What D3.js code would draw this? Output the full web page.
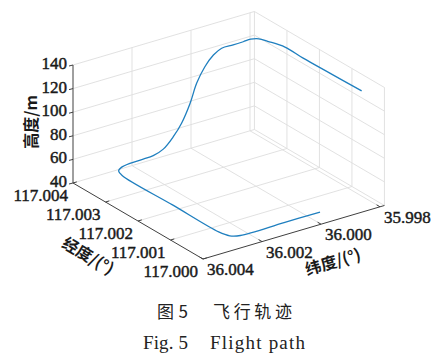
<!DOCTYPE html>
<html><head><meta charset="utf-8">
<script src="https://cdn.jsdelivr.net/npm/d3@7"></script>
<style>body{margin:0;background:#fff} svg{display:block}</style>
</head><body>
<script>
// ---- data ----
const lonTicks = [117.004, 117.003, 117.002, 117.001, 117.000];
const lonTickLabels = ["117.004", "117.003", "117.002", "117.001", "117.000"];
const latTicks = [36.004, 36.002, 36.000, 35.998];
const latTickLabels = ["36.004", "36.002", "36.000", "35.998"];
const altTicks = [40, 60, 80, 100, 120, 140];
const altTickLabels = ["40", "60", "80", "100", "120", "140"];
const lonDomain = [117.004, 117.000];
const latDomain = [36.004, 35.99785];
const altDomain = [40, 140];

const pathLon = [117.00023, 117.00023, 117.00023, 117.00033, 117.00058, 117.00200, 117.00355, 117.00373,
  117.00380, 117.00380, 117.00380, 117.00380, 117.00380, 117.00380, 117.00380, 117.00380, 117.00380,
  117.00380, 117.00380, 117.00380, 117.00380, 117.00380, 117.00380, 117.00371, 117.00350, 117.00297,
  117.00241, 117.00159, 117.00061];
const pathLat = [35.99978, 36.00100, 36.00248, 36.00273, 36.00283, 36.00283, 36.00283, 36.00275,
  36.00258, 36.00229, 36.00184, 36.00150, 36.00116, 36.00082, 36.00054, 36.00025, 36.00003,
  35.99975, 35.99946, 35.99918, 35.99879, 35.99845, 35.99820, 35.99802, 35.99795, 35.99795,
  35.99795, 35.99795, 35.99795];
const pathAlt = [45, 45, 45, 45, 45, 45, 45, 45.5,
  46, 47.3, 47.5, 48.0, 51.0, 59, 68.3, 83.1, 98.4,
  110.4, 118.2, 121.9, 121.8, 122, 122.3, 122.8, 123.5, 127.2,
  126.8, 127.3, 128];

// ---- projection through d3 scales ----
const W = 442, H = 355;
const origin = [73, 183];
const lonX = d3.scaleLinear().domain([117.004, 117.000]).range([0, 130]);
const lonY = d3.scaleLinear().domain([117.004, 117.000]).range([0, 76]);
const latX = d3.scaleLinear().domain([36.004, 35.998]).range([0, 177]);
const latY = d3.scaleLinear().domain([36.004, 35.998]).range([0, -52.2]);
const altY = d3.scaleLinear().domain([40, 140]).range([0, -118]);
const P = (lon, lat, alt) => [origin[0] + lonX(lon) + latX(lat), origin[1] + lonY(lon) + latY(lat) + altY(alt)];

const serif = "'Liberation Serif','Times New Roman',serif";
const cjk = "'Noto Sans CJK SC','Noto Sans',sans-serif";
const svg = d3.select("body").append("svg").attr("width", W).attr("height", H);

const lonMin = lonDomain[1], lonMax = lonDomain[0];
const latMax = latDomain[0], latMin = latDomain[1];
const zMin = altDomain[0], zMax = altDomain[1];

const seg = (g, a, b, color, w) => g.append("line")
  .attr("x1", a[0]).attr("y1", a[1]).attr("x2", b[0]).attr("y2", b[1])
  .attr("stroke", color).attr("stroke-width", w);

// grid
const grid = svg.append("g");
const gc = "#dedede", gw = 0.9;
// floor
lonTicks.filter(d => d !== lonMax && d !== lonMin).forEach(lon => seg(grid, P(lon, latMax, zMin), P(lon, latMin, zMin), gc, gw));
latTicks.filter(d => d !== latMax).forEach(lat => seg(grid, P(lonMax, lat, zMin), P(lonMin, lat, zMin), gc, gw));
seg(grid, P(lonMax, latMax, zMin), P(lonMax, latMin, zMin), gc, gw);
seg(grid, P(lonMax, latMin, zMin), P(lonMin, latMin, zMin), gc, gw);
// left wall (lon = max)
altTicks.filter(d => d !== zMin).forEach(z => seg(grid, P(lonMax, latMax, z), P(lonMax, latMin, z), gc, gw));
latTicks.filter(d => d !== latMax).concat([latMin]).forEach(lat => seg(grid, P(lonMax, lat, zMin), P(lonMax, lat, zMax), gc, gw));
// right wall (lat = min)
altTicks.filter(d => d !== zMin).forEach(z => seg(grid, P(lonMax, latMin, z), P(lonMin, latMin, z), gc, gw));
lonTicks.filter(d => d !== lonMax).forEach(lon => seg(grid, P(lon, latMin, zMin), P(lon, latMin, zMax), gc, gw));

// axes
const ax = svg.append("g");
const ac = "#404040";
seg(ax, P(lonMax, latMax, zMin), P(lonMax, latMax, zMax), ac, 1);
seg(ax, P(lonMax, latMax, zMin), P(lonMin, latMax, zMin), ac, 1);
seg(ax, P(lonMin, latMax, zMin), P(lonMin, latMin, zMin), ac, 1);

// ticks + labels
const tc = "#1a1a1a";
const fs = 17;
const lab = (g) => g.attr("font-family", serif).attr("font-size", fs).attr("fill", tc)
  .attr("stroke", tc).attr("stroke-width", 0.45);
altTicks.forEach((z, i) => {
  const p = P(lonMax, latMax, z);
  seg(ax, p, [p[0] - 4, p[1] + 1], ac, 1);
  lab(ax.append("text").attr("x", p[0] - 6).attr("y", p[1] - 2).attr("dy", "0.35em")
    .attr("text-anchor", "end")).text(altTickLabels[i]);
});
lonTicks.forEach((lon, i) => {
  const p = P(lon, latMax, zMin);
  seg(ax, p, [p[0] + 3.8, p[1] - 1.1], ac, 1);
  lab(ax.append("text").attr("x", p[0] - 5).attr("y", p[1] + 12).attr("dy", "0.35em")
    .attr("text-anchor", "end")).text(lonTickLabels[i]);
});
latTicks.forEach((lat, i) => {
  const p = P(lonMin, lat, zMin);
  seg(ax, p, [p[0] - 3.4, p[1] - 2], ac, 1);
  lab(ax.append("text").attr("x", p[0] + 4).attr("y", p[1] + 10).attr("dy", "0.35em")
    .attr("text-anchor", "start")).text(latTickLabels[i]);
});

// axis titles
svg.append("text").attr("transform", "translate(31,122) rotate(-90)")
  .attr("text-anchor", "middle").attr("dy", "0.35em").attr("font-size", 16).attr("font-weight", "bold")
  .attr("font-family", cjk).attr("fill", tc).text("高度/m");
svg.append("text").attr("transform", "translate(88,256) rotate(30.3)")
  .attr("text-anchor", "middle").attr("dy", "0.35em").attr("font-size", 16).attr("font-weight", "bold")
  .attr("font-family", cjk).attr("fill", tc).text("经度/(°)");
svg.append("text").attr("transform", "translate(333,262) rotate(-16.4)")
  .attr("text-anchor", "middle").attr("dy", "0.35em").attr("font-size", 16).attr("font-weight", "bold")
  .attr("font-family", cjk).attr("fill", tc).text("纬度/(°)");

// trajectory
const pts = pathLon.map((lon, i) => P(lon, pathLat[i], pathAlt[i]));
svg.append("path").attr("d", d3.line().curve(d3.curveCatmullRom.alpha(0.5))(pts))
  .attr("fill", "none").attr("stroke", "#1f7fbf").attr("stroke-width", 1.3);

// caption
const cap = svg.append("g").attr("fill", "#222");
cap.append("text").attr("x", 157).attr("y", 312).attr("dy", "0.35em").attr("font-size", 17)
  .attr("font-family", cjk).attr("textLength", 31).text("图 5");
cap.append("text").attr("x", 213).attr("y", 312).attr("dy", "0.35em").attr("font-size", 17)
  .attr("font-family", cjk).attr("textLength", 79).attr("lengthAdjust", "spacing").text("飞行轨迹");
cap.append("text").attr("x", 143).attr("y", 342).attr("dy", "0.35em").attr("font-size", 19)
  .attr("font-family", serif).attr("textLength", 45).text("Fig. 5");
cap.append("text").attr("x", 210).attr("y", 342).attr("dy", "0.35em").attr("font-size", 19)
  .attr("font-family", serif).attr("textLength", 95).attr("lengthAdjust", "spacing").text("Flight path");
</script>
</body></html>
